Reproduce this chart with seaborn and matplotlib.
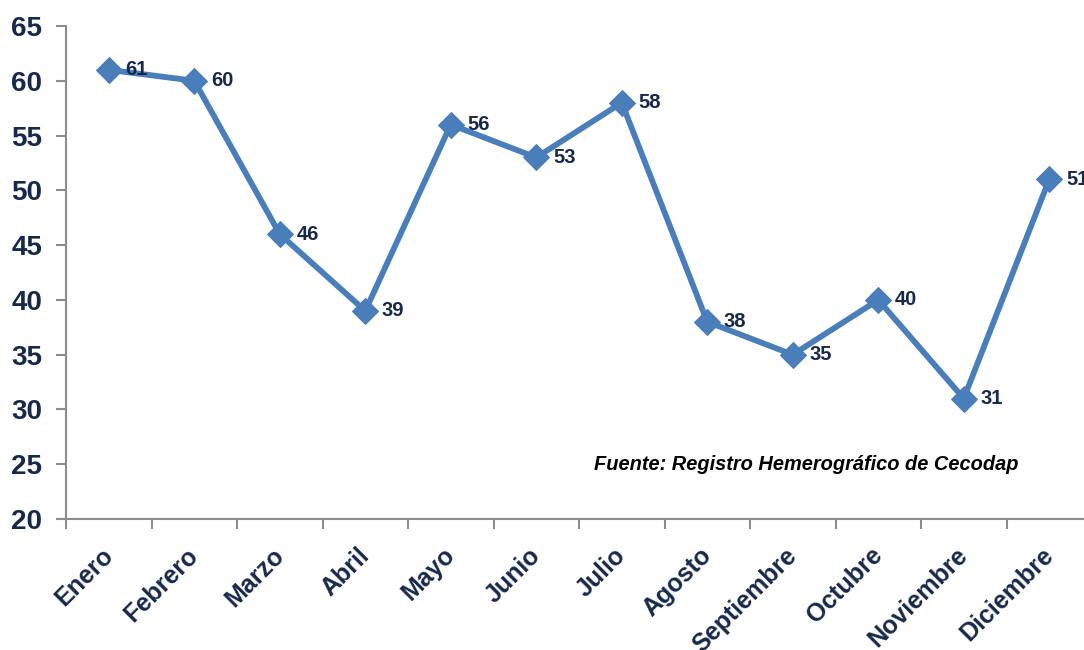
import seaborn as sns
import pandas as pd
import matplotlib.pyplot as plt
import matplotlib.transforms as mtransforms
import numpy as np

meses = ["Enero", "Febrero", "Marzo", "Abril", "Mayo", "Junio", "Julio",
         "Agosto", "Septiembre", "Octubre", "Noviembre", "Diciembre"]
casos = [61, 60, 46, 39, 56, 53, 58, 38, 35, 40, 31, 51]
fuente = "Fuente: Registro Hemerográfico de Cecodap"

sns.set_style("white")
plt.rcParams['font.family'] = ['Liberation Sans', 'DejaVu Sans']

azul = "#4A7EBB"
texto = "#17294A"
gris = "#8C8C8C"

df = pd.DataFrame({'pos': np.arange(len(meses)), 'mes': meses, 'casos': casos})

fig = plt.figure(figsize=(10.84, 6.5), dpi=100)
ax = fig.add_axes([0.0609, 0.2015, 0.9465, 0.7585])

sns.lineplot(data=df, x='pos', y='casos', ax=ax, color=azul, linewidth=4.2,
             marker='D', markersize=13, markeredgecolor=azul, sort=False)

for _, r in df.iterrows():
    ax.annotate(str(r['casos']), (r['pos'], r['casos']), xytext=(12, 0),
                textcoords='offset points', ha='left', va='center',
                fontsize=14.5, fontweight='bold', color=texto, annotation_clip=False)

ax.set_xlim(-0.5, len(meses) - 0.5)
ax.set_ylim(20, 65)
ax.set_yticks(range(20, 66, 5))
ax.set_xticks(df['pos'])
ax.set_xticklabels(meses, rotation=45, ha='right', rotation_mode='anchor')
ax.set_xticks(np.arange(-0.5, len(meses), 1), minor=True)
ax.tick_params(axis='x', which='major', length=0, pad=16, labelsize=18, labelcolor=texto)
ax.tick_params(axis='x', which='minor', length=7, width=1.5, color=gris, direction='out')
ax.tick_params(axis='y', length=7, width=1.5, color=gris, direction='out',
               labelsize=20, labelcolor=texto, pad=10)
ax.tick_params(left=True, bottom=True)
ax.xaxis.set_tick_params(which='minor', bottom=True)
for lab in ax.get_xticklabels() + ax.get_yticklabels():
    lab.set_fontweight('bold')

# shift month labels a bit left, like the original
offset = mtransforms.ScaledTranslation(-8 / 100, -2 / 100, fig.dpi_scale_trans)
for lab in ax.get_xticklabels():
    lab.set_transform(lab.get_transform() + offset)

ax.set_xlabel('')
ax.set_ylabel('')
sns.despine(ax=ax)
for s in ['left', 'bottom']:
    ax.spines[s].set_color(gris)
    ax.spines[s].set_linewidth(1.5)

ax.text(5.67, 25, fuente, fontsize=14.4, fontweight='bold', fontstyle='italic',
        color='black', ha='left', va='center')

fig.savefig("out.png", dpi=100)
